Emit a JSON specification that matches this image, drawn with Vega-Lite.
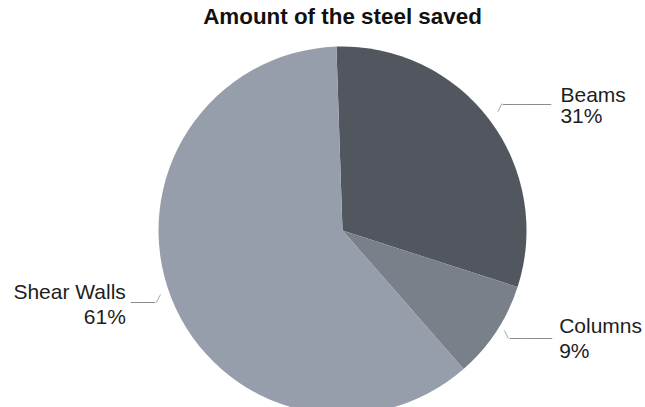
{
  "$schema": "https://vega.github.io/schema/vega-lite/v6.json",
  "autosize": "none",
  "width": 605,
  "height": 353,
  "padding": {"left": 40, "top": 54, "right": 0, "bottom": 0},
  "background": "white",
  "title": {
    "text": "Amount of the steel saved",
    "font": "Liberation Sans",
    "fontSize": 22.4,
    "fontWeight": "bold",
    "color": "#111111",
    "anchor": "middle",
    "offset": 18
  },
  "data": {
    "values": [
      {"part": "Beams", "value": 30.5, "label": "Beams\n31%"},
      {"part": "Columns", "value": 8.6, "label": "Columns\n9%"},
      {"part": "Shear Walls", "value": 60.9, "label": "Shear Walls\n61%"}
    ]
  },
  "encoding": {
    "theta": {"field": "value", "type": "quantitative", "stack": true, "scale": {"range": [-0.0332, 6.25]}},
    "detail": {"field": "part", "type": "nominal"}
  },
  "layer": [
    {
      "mark": {"type": "arc", "outerRadius": 184, "stroke": null},
      "encoding": {
        "color": {"field": "part", "type": "nominal", "legend": null,
          "scale": {"domain": ["Beams", "Columns", "Shear Walls"], "range": ["#52565f", "#7a808a", "#979eab"]}}
      }
    },
    {
      "mark": {"type": "text", "radius": 184, "font": "Liberation Sans", "fontSize": 21, "color": "#1e1e1e", "align": "left", "baseline": "alphabetic", "lineBreak": "\n", "lineHeight": 21, "dx": 71, "dy": -18},
      "encoding": {"text": {"condition": {"test": "datum.part === 'Beams'", "field": "label"}, "value": ""}}
    },
    {
      "mark": {"type": "text", "radius": 184, "font": "Liberation Sans", "fontSize": 21, "color": "#1e1e1e", "align": "left", "baseline": "alphabetic", "lineBreak": "\n", "lineHeight": 25, "dx": 63, "dy": 1},
      "encoding": {"text": {"condition": {"test": "datum.part === 'Columns'", "field": "label"}, "value": ""}}
    },
    {
      "mark": {"type": "text", "radius": 184, "font": "Liberation Sans", "fontSize": 21, "color": "#1e1e1e", "align": "right", "baseline": "alphabetic", "lineBreak": "\n", "lineHeight": 25, "dx": -45.5, "dy": 1},
      "encoding": {"text": {"condition": {"test": "datum.part === 'Shear Walls'", "field": "label"}, "value": ""}}
    },
    {
      "mark": {"type": "text", "radius": 184, "font": "DejaVu Sans", "fontSize": 10, "color": "#808080", "align": "left", "baseline": "alphabetic", "dx": 13.4, "dy": -11.3},
      "encoding": {"text": {"condition": {"test": "datum.part === 'Beams'", "value": "────────"}, "value": ""}}
    },
    {
      "mark": {"type": "text", "radius": 184, "font": "DejaVu Sans", "fontSize": 10, "color": "#808080", "align": "left", "baseline": "alphabetic", "dx": 13.7, "dy": 10.7},
      "encoding": {"text": {"condition": {"test": "datum.part === 'Columns'", "value": "───────"}, "value": ""}}
    },
    {
      "mark": {"type": "text", "radius": 184, "font": "DejaVu Sans", "fontSize": 10, "color": "#808080", "align": "right", "baseline": "alphabetic", "dx": -16.5, "dy": 7.6},
      "encoding": {"text": {"condition": {"test": "datum.part === 'Shear Walls'", "value": "────"}, "value": ""}}
    },
    {
      "mark": {"type": "text", "radius": 184, "font": "DejaVu Sans", "fontSize": 7, "color": "#707070", "align": "center", "baseline": "middle", "dx": 10.4, "dy": -11.3},
      "encoding": {"text": {"condition": {"test": "datum.part === 'Beams'", "value": "╱"}, "value": ""}}
    },
    {
      "mark": {"type": "text", "radius": 184, "font": "DejaVu Sans", "fontSize": 7, "color": "#707070", "align": "center", "baseline": "middle", "dx": 10.2, "dy": 3.7},
      "encoding": {"text": {"condition": {"test": "datum.part === 'Columns'", "value": "╲"}, "value": ""}}
    },
    {
      "mark": {"type": "text", "radius": 184, "font": "DejaVu Sans", "fontSize": 7, "color": "#707070", "align": "center", "baseline": "middle", "dx": -13, "dy": 1.1},
      "encoding": {"text": {"condition": {"test": "datum.part === 'Shear Walls'", "value": "╱"}, "value": ""}}
    }
  ]
}
